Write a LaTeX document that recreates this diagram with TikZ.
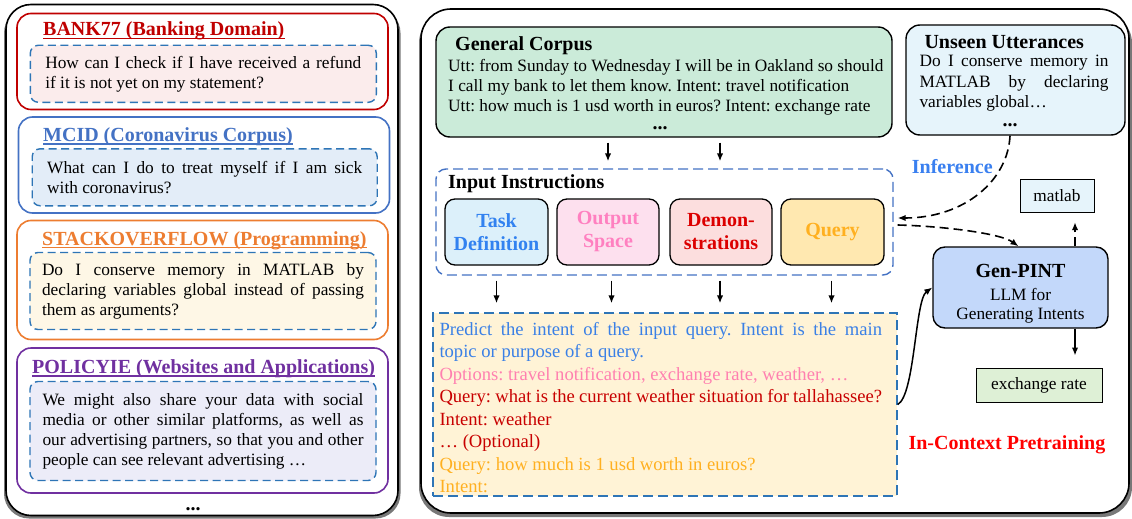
\documentclass[tikz,border=0pt]{standalone}
\usepackage{fontspec}
\setmainfont{Liberation Serif}
\usetikzlibrary{arrows.meta,calc}
\hfuzz=20pt
\frenchspacing
\definecolor{bankred}{RGB}{192,0,0}
\definecolor{bankfill}{RGB}{251,236,236}
\definecolor{mcidblue}{RGB}{68,114,196}
\definecolor{mcidfill}{RGB}{227,237,248}
\definecolor{stackorange}{RGB}{237,125,49}
\definecolor{stackfill}{RGB}{254,247,230}
\definecolor{policypurple}{RGB}{112,48,160}
\definecolor{policyfill}{RGB}{236,236,248}
\definecolor{dashblue}{RGB}{46,117,182}
\definecolor{corpusfill}{RGB}{203,235,217}
\definecolor{inputdash}{RGB}{68,114,196}
\definecolor{taskfill}{RGB}{220,240,250}
\definecolor{taskblue}{RGB}{50,130,240}
\definecolor{outfill}{RGB}{253,224,238}
\definecolor{outpink}{RGB}{255,128,192}
\definecolor{demofill}{RGB}{252,222,222}
\definecolor{demored}{RGB}{220,0,0}
\definecolor{queryfill}{RGB}{255,232,176}
\definecolor{queryorange}{RGB}{255,176,32}
\definecolor{promptfill}{RGB}{255,243,214}
\definecolor{pblue}{RGB}{58,128,230}
\definecolor{ppink}{RGB}{255,128,176}
\definecolor{pred}{RGB}{200,0,0}
\definecolor{porange}{RGB}{255,176,32}
\definecolor{unseenfill}{RGB}{230,244,251}
\definecolor{genfill}{RGB}{195,216,250}
\definecolor{exfill}{RGB}{222,240,214}
\definecolor{infblue}{RGB}{58,128,240}
\definecolor{icpred}{RGB}{255,0,0}
\definecolor{shadowc}{RGB}{120,120,120}
\newcommand\bodyf{\fontsize{17.3}{20}\selectfont}
\newcommand\titlef{\fontsize{20}{23}\selectfont\bfseries}
\newcommand\promptf{\fontsize{18.6}{22.5}\selectfont}
\begin{document}
\begin{tikzpicture}[x=1pt,y=-1pt,
  outerbox/.style={draw=black, line width=1.6pt, fill=white, inner sep=0pt},
  secbox/.style={draw, line width=1.6pt, rounded corners=14pt, minimum width=371pt, inner sep=0pt, fill=white},
  sectitle/.style={anchor=base west, inner sep=0pt, font=\titlef},
  qbox/.style={draw=dashblue, dash pattern=on 8pt off 4.5pt, line width=1.4pt, rounded corners=8pt, align=justify, inner ysep=0pt, font=\bodyf},
  rbox/.style={draw=black, line width=1.4pt, rounded corners=14pt, inner sep=0pt},
  dbox/.style={draw=inputdash, line width=1.4pt, dash pattern=on 10pt off 5pt},
  comp/.style={draw=black, line width=1.3pt, rounded corners=10pt, minimum width=103pt, minimum height=66pt, align=center, font=\titlef, inner sep=0pt},
  sbox/.style={draw=black, line width=1pt, font=\bodyf, inner sep=0pt},
  txt/.style={inner sep=0pt, font=\bodyf},
  arr/.style={-{Latex[length=8pt,width=6.5pt]}, line width=1.5pt},
  darr/.style={arr, line width=1.6pt, dash pattern=on 9pt off 5pt}
]
\useasboundingbox (0,0) rectangle (1132,519);
% ---------------- left panel
\fill[shadowc, rounded corners=25pt] (4,8) rectangle (400.5,518.5);
\node[outerbox, rounded corners=25pt, minimum width=392pt, minimum height=511pt] (leftpanel) at (202,260) {};

\node[secbox, draw=bankred, minimum height=96pt] (bank) at (202.5,61.5) {};
\node[sectitle, text=bankred] (banktitle) at (43,36) {BANK77 (Banking Domain)};
\draw[bankred, line width=1.2pt] ($(banktitle.base west)+(0,2.5)$) -- ($(banktitle.base east)+(0,2.5)$);
\node[qbox, fill=bankfill, text width=316pt, inner xsep=15pt, minimum height=57pt] (bankq) at (203.3,73.8)
  {How can I check if I have received a refund\linebreak if it is not yet on my statement?};

\node[secbox, draw=mcidblue, minimum height=96pt] (mcid) at (204,165) {};
\node[sectitle, text=mcidblue] (mcidtitle) at (43,141.5) {MCID (Coronavirus Corpus)};
\draw[mcidblue, line width=1.2pt] ($(mcidtitle.base west)+(0,2.5)$) -- ($(mcidtitle.base east)+(0,2.5)$);
\node[qbox, fill=mcidfill, text width=315pt, inner xsep=15pt, minimum height=57pt] (mcidq) at (204.7,177.3)
  {What can I do to treat myself if I am sick\linebreak with coronavirus?};

\node[secbox, draw=stackorange, minimum height=119pt] (stack) at (202.5,280) {};
\node[sectitle, text=stackorange] (stacktitle) at (42,245) {STACKOVERFLOW (Programming)};
\draw[stackorange, line width=1.2pt] ($(stacktitle.base west)+(0,2.5)$) -- ($(stacktitle.base east)+(0,2.5)$);
\node[qbox, fill=stackfill, text width=322pt, inner xsep=12pt, minimum height=77pt] (stackq) at (203,291)
  {Do I conserve memory in MATLAB by\linebreak declaring variables global instead of passing\linebreak them as arguments?};

\node[secbox, draw=policypurple, minimum height=145pt] (policy) at (202.5,420.5) {};
\node[sectitle, text=policypurple] (policytitle) at (32,373.5) {POLICYIE (Websites and Applications)};
\draw[policypurple, line width=1.2pt] ($(policytitle.base west)+(0,2.5)$) -- ($(policytitle.base east)+(0,2.5)$);
\node[qbox, fill=policyfill, text width=321pt, inner xsep=12.5pt, minimum height=99pt] (policyq) at (203,431)
  {We might also share your data with social\linebreak media or other similar platforms, as well as\linebreak our advertising partners, so that you and other\linebreak people can see relevant advertising …};

\node[txt, anchor=base, font=\titlef] (leftdots) at (193,510) {...};

% ---------------- right panel
\fill[shadowc, rounded corners=30pt] (419,13) rectangle (1132,517);
\node[outerbox, rounded corners=30pt, minimum width=708pt, minimum height=504pt] (rightpanel) at (775,261) {};

\node[rbox, fill=corpusfill, minimum width=456pt, minimum height=110pt] (corpus) at (664,82) {};
\node[sectitle] (corpustitle) at (455,50.5) {General Corpus};
\node[txt, anchor=north west, align=left] (corpustext) at (448,57)
  {\strut Utt: from Sunday to Wednesday I will be in Oakland so should\\
   I call my bank to let them know. Intent: travel notification\\
   Utt: how much is 1 usd worth in euros? Intent: exchange rate};
\node[txt, anchor=base, font=\titlef] (corpusdots) at (660,129) {...};

\node[dbox, rounded corners=10pt, minimum width=457pt, minimum height=106pt] (inputbox) at (664.5,222) {};
\node[sectitle] (inputtitle) at (448,188.5) {Input Instructions};
\node[comp, fill=taskfill, text=taskblue] (task) at (496.5,232) {Task\\Definition};
\node[comp, fill=outfill, text=outpink, minimum width=102pt] (outspace) at (608,232) {Output\\Space};
\node[comp, fill=demofill, text=demored, minimum width=102pt] (demo) at (721,232) {Demon-\\strations};
\node[comp, fill=queryfill, text=queryorange] (query) at (832.5,232) {Query};

\draw[arr] ($(corpus.south)+(-56,5)$) -- ($(inputbox.north)+(-56.5,-7)$);
\draw[arr] ($(corpus.south)+(56,5)$) -- ($(inputbox.north)+(55.5,-7)$);

\node[dbox, draw=dashblue, fill=promptfill, minimum width=464pt, minimum height=183pt] (prompt) at (665,404.5) {};
\node[txt, anchor=north west, text width=442.5pt, align=justify, font=\promptf] (prompttext) at (439.3,319.25)
  {\strut{\color{pblue}Predict the intent of the input query. Intent is the main\linebreak topic or purpose of a query.}\\
   {\color{ppink}Options: travel notification, exchange rate, weather, …}\\
   {\color{pred}Query: what is the current weather situation for tallahassee?}\\
   {\color{pred}Intent: weather}\\
   {\color{pred}… (Optional)}\\
   {\color{porange}Query: how much is 1 usd worth in euros?}\\
   {\color{porange}Intent:}};

\draw[arr] ($(task.south)+(0,15)$) -- ($(task.south |- prompt.north)+(0,-9)$);
\draw[arr] ($(outspace.south)+(3.5,15)$) -- ($(outspace.south |- prompt.north)+(3.5,-9)$);
\draw[arr] ($(demo.south)+(-1,15)$) -- ($(demo.south |- prompt.north)+(-1,-9)$);
\draw[arr] ($(query.south)+(-1,15)$) -- ($(query.south |- prompt.north)+(-1,-9)$);

\node[rbox, fill=unseenfill, minimum width=219pt, minimum height=110pt] (unseen) at (1015.5,80) {};
\node[sectitle] (unseentitle) at (924.3,48.3) {Unseen Utterances};
\node[txt, anchor=north west, text width=189pt, align=justify, font=\fontsize{17.3}{20.5}\selectfont] (unseentext) at (919.3,52.35)
  {\strut Do I conserve memory in\linebreak MATLAB by declaring\linebreak variables global…};
\node[txt, anchor=base, font=\titlef] (unseendots) at (1010,126) {...};

\node[sectitle, text=infblue] (inference) at (911.7,173.3) {Inference};

\node[rbox, fill=genfill, rounded corners=12pt, minimum width=175pt, minimum height=81pt] (genpint) at (1020.5,287.5) {};
\node[txt, anchor=base, font=\titlef] (gentitle) at (1020.5,277.3) {Gen-PINT};
\node[txt, anchor=base] (gensub) at (1020.5,300) {LLM for};
\node[txt, anchor=base] (gensubb) at (1020.5,319) {Generating Intents};

\node[sbox, fill=unseenfill, minimum width=74pt, minimum height=33pt] (matlab) at (1057,195.7) {matlab};
\node[sbox, fill=exfill, minimum width=126pt, minimum height=34pt] (exch) at (1039,385) {exchange rate};

\draw[darr] ($(unseen.south)+(-5.5,0)$) .. controls (1008,180) and (965,218) .. ($(inputbox.east)+(4,-4)$);
\draw[darr] ($(inputbox.east)+(4,3)$) .. controls (940,226) and (1000,233) .. ($(genpint.north)+(-2,0)$);
\draw[darr] ($(genpint.north)+(54.5,0)$) -- ($(matlab.south)+(18,9.5)$);
\draw[arr] ($(genpint.south)+(54.5,0)$) -- ($(exch.north)+(36,-12)$);
\draw[arr] (prompt.east) .. controls (915,395) and (915,300) .. (genpint.west);

\node[sectitle, text=icpred] (icp) at (908.3,449) {In-Context Pretraining};
\end{tikzpicture}
\end{document}
